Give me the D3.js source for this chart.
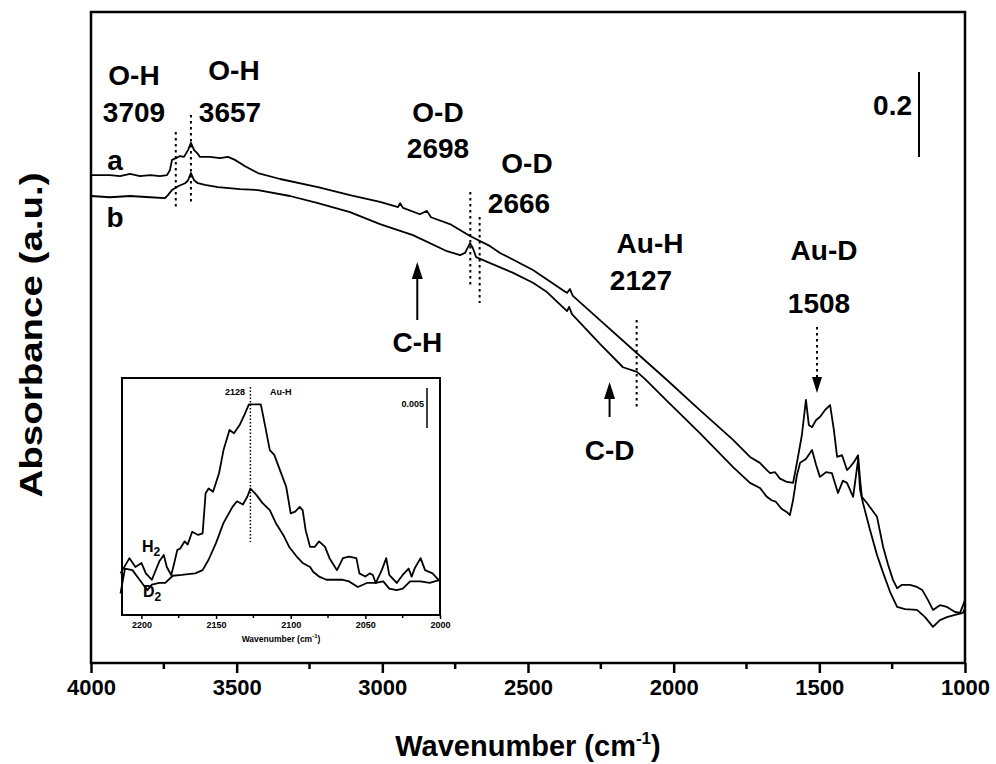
<!DOCTYPE html>
<html>
<head>
<meta charset="utf-8">
<script src="https://cdn.jsdelivr.net/npm/d3@7/dist/d3.min.js"></script>
<style>
  body { margin: 0; background: #fff; }
  svg text { font-family: "Liberation Sans", Arial, sans-serif; font-weight: bold; fill: #000; }
</style>
</head>
<body>
<svg id="chart" width="996" height="764"></svg>
<script>
// main spectra: [wavenumber, absorbance]
var curveA = [[4000,1.148],[3935,1.148],[3900,1.146],[3866,1.151],[3832,1.146],[3797,1.148],[3763,1.146],[3739,1.148],
  [3729,1.160],[3722,1.184],[3708,1.188],[3695,1.193],[3681,1.191],[3667,1.207],[3657,1.224],[3646,1.207],[3633,1.198],
  [3626,1.191],[3592,1.191],[3557,1.188],[3530,1.191],[3506,1.184],[3471,1.169],[3427,1.153],[3351,1.139],[3221,1.120],
  [3111,1.101],[3008,1.085],[2946,1.073],[2939,1.082],[2929,1.071],[2871,1.056],[2847,1.064],[2833,1.049],[2768,1.033],
  [2699,1.005],[2630,0.981],[2596,0.965],[2483,0.925],[2366,0.871],[2356,0.880],[2346,0.864],[2253,0.807],[2126,0.729],
  [2023,0.666],[1910,0.595],[1796,0.525],[1738,0.485],[1704,0.471],[1680,0.454],[1669,0.447],[1652,0.449],[1635,0.434],
  [1611,0.426],[1590,0.424],[1577,0.471],[1560,0.536],[1546,0.619],[1536,0.560],[1525,0.555],[1511,0.572],[1498,0.579],
  [1481,0.595],[1463,0.607],[1450,0.548],[1439,0.485],[1422,0.489],[1405,0.454],[1395,0.461],[1381,0.473],[1367,0.489],
  [1360,0.431],[1354,0.391],[1336,0.376],[1319,0.360],[1302,0.344],[1281,0.273],[1264,0.231],[1247,0.195],[1233,0.176],
  [1216,0.184],[1189,0.184],[1165,0.179],[1147,0.172],[1127,0.148],[1110,0.125],[1086,0.136],[1062,0.132],[1034,0.120],
  [1017,0.118],[1000,0.148]];

var curveB = [[4000,1.099],[3935,1.096],[3866,1.099],[3797,1.096],[3746,1.094],[3736,1.101],[3722,1.113],[3701,1.122],
  [3677,1.129],[3667,1.136],[3657,1.153],[3646,1.136],[3633,1.129],[3609,1.125],[3564,1.120],[3489,1.115],[3427,1.113],
  [3317,1.099],[3221,1.082],[3111,1.061],[3008,1.033],[2895,1.007],[2778,0.969],[2733,0.960],[2716,0.965],[2699,0.988],
  [2689,0.976],[2678,0.955],[2630,0.941],[2551,0.918],[2483,0.895],[2435,0.873],[2366,0.828],[2359,0.838],[2349,0.821],
  [2253,0.751],[2174,0.696],[2126,0.685],[2098,0.668],[2023,0.617],[1910,0.541],[1796,0.461],[1738,0.424],[1704,0.412],
  [1680,0.391],[1664,0.383],[1650,0.380],[1630,0.363],[1611,0.355],[1601,0.348],[1590,0.384],[1577,0.442],[1566,0.471],
  [1546,0.480],[1525,0.501],[1511,0.466],[1498,0.438],[1477,0.449],[1457,0.447],[1436,0.400],[1419,0.429],[1405,0.424],
  [1384,0.391],[1367,0.478],[1360,0.407],[1350,0.376],[1326,0.313],[1302,0.254],[1281,0.212],[1257,0.167],[1233,0.132],
  [1206,0.127],[1165,0.125],[1137,0.108],[1110,0.085],[1086,0.101],[1062,0.108],[1034,0.113],[1007,0.118],[1000,0.129]];

// inset spectra (Au-H region)
var insetH2 = [[2214,0.0052],[2208,0.0071],[2204,0.0060],[2200,0.0065],[2197,0.0052],[2193,0.0044],[2188,0.0067],
  [2185,0.0075],[2183,0.0060],[2180,0.0050],[2178,0.0065],[2176,0.0081],[2174,0.0083],[2171,0.0092],[2169,0.0088],
  [2166,0.0104],[2162,0.0100],[2159,0.0102],[2157,0.0152],[2155,0.0158],[2152,0.0154],[2148,0.0177],[2145,0.0206],
  [2141,0.0231],[2138,0.0227],[2134,0.0238],[2131,0.0250],[2128,0.0263],[2120,0.0263],[2117,0.0235],[2114,0.0206],
  [2111,0.0200],[2108,0.0185],[2103,0.0160],[2100,0.0127],[2097,0.0129],[2094,0.0135],[2092,0.0131],[2090,0.0106],
  [2087,0.0085],[2084,0.0085],[2081,0.0092],[2077,0.0085],[2074,0.0071],[2069,0.0056],[2065,0.0071],[2061,0.0073],
  [2056,0.0071],[2054,0.0052],[2050,0.0048],[2047,0.0052],[2045,0.0050],[2043,0.0040],[2039,0.0056],[2036,0.0071],
  [2034,0.0050],[2029,0.0040],[2025,0.0050],[2021,0.0058],[2019,0.0048],[2017,0.0058],[2013,0.0071],[2010,0.0056],
  [2005,0.0052],[2000,0.0042]];

var insetD2 = [[2214,0.0027],[2211,0.0058],[2206,0.0056],[2202,0.0046],[2196,0.0031],[2193,0.0038],[2188,0.0040],
  [2184,0.0040],[2179,0.0049],[2173,0.0050],[2164,0.0052],[2159,0.0056],[2155,0.0069],[2150,0.0090],[2148,0.0100],
  [2145,0.0115],[2139,0.0135],[2136,0.0142],[2132,0.0138],[2129,0.0148],[2127,0.0158],[2123,0.0150],[2119,0.0140],
  [2114,0.0131],[2110,0.0115],[2105,0.0100],[2101,0.0085],[2096,0.0073],[2092,0.0065],[2087,0.0060],[2085,0.0054],
  [2081,0.0048],[2076,0.0044],[2069,0.0044],[2065,0.0044],[2061,0.0042],[2055,0.0035],[2049,0.0040],[2043,0.0040],
  [2038,0.0042],[2034,0.0033],[2029,0.0031],[2025,0.0033],[2020,0.0042],[2013,0.0042],[2007,0.0040],[2000,0.0044]];

var xTicks = [4000, 3500, 3000, 2500, 2000, 1500, 1000];
var insetTicks = [2200, 2150, 2100, 2050, 2000];
var peakLines = [3709, 3657, 2698, 2666, 2127];
var peakNames = ["O-H", "O-H", "O-D", "O-D", "Au-H", "Au-D"];
var peakValues = ["3709", "3657", "2698", "2666", "2127", "1508"];
var shiftArrows = [["C-H", 2880], ["C-D", 2220]];
var auD = 1508;
var scaleBar = 0.2, insetScaleBar = 0.005, insetPeak = 2127;

var svg = d3.select("#chart");

var margin = {left: 91, right: 31, top: 12, bottom: 101},
  width = 996 - margin.left - margin.right,
  height = 764 - margin.top - margin.bottom;

var x = d3.scaleLinear().domain([4000, 1000]).range([margin.left, margin.left + width]);
var y = d3.scaleLinear().domain([0, 1.532]).range([margin.top + height, margin.top]);

var line = d3.line()
  .x(function(d) { return x(d[0]); })
  .y(function(d) { return y(d[1]); });

// curves
svg.selectAll(".spec")
  .data([curveA, curveB])
  .enter().append("path")
  .attr("class", "spec")
  .attr("d", line)
  .attr("fill", "none")
  .attr("stroke", "#000")
  .attr("stroke-width", 1.8)
  .attr("stroke-linejoin", "round");

// frame
svg.append("rect")
  .attr("x", margin.left).attr("y", margin.top)
  .attr("width", width).attr("height", height)
  .attr("fill", "none").attr("stroke", "#000").attr("stroke-width", 2.5);

// bottom axis
var minor = d3.range(3750, 1000, -500);
svg.selectAll(".minor")
  .data(minor).enter().append("line")
  .attr("x1", x).attr("x2", x)
  .attr("y1", margin.top + height).attr("y2", margin.top + height + 6)
  .attr("stroke", "#000").attr("stroke-width", 2.5);

var xAxis = d3.axisBottom(x).tickValues(xTicks).tickSize(10).tickFormat(d3.format("d"));
var gx = svg.append("g")
  .attr("transform", "translate(0," + (margin.top + height) + ")")
  .call(xAxis);
gx.select(".domain").remove();
gx.selectAll(".tick line").attr("stroke-width", 2.5);
gx.selectAll(".tick text")
  .attr("y", 16)
  .attr("font-size", 22)
  .attr("font-family", "'Liberation Sans', Arial, sans-serif")
  .attr("font-weight", "bold");

// axis titles
var title = svg.append("text")
  .attr("x", 528).attr("y", 756)
  .attr("text-anchor", "middle")
  .attr("font-size", 29);
title.append("tspan").text("Wavenumber (cm");
title.append("tspan").attr("font-size", 17).attr("dy", -12).text("-1");
title.append("tspan").attr("dy", 12).text(")");

svg.append("text")
  .attr("transform", "translate(42,335) rotate(-90)")
  .attr("text-anchor", "middle")
  .attr("font-size", 32)
  .attr("textLength", 325)
  .attr("lengthAdjust", "spacingAndGlyphs")
  .text("Absorbance (a.u.)");

// scale bar
svg.append("line")
  .attr("x1", 919).attr("x2", 919)
  .attr("y1", 72).attr("y2", 72 + (y(0) - y(scaleBar)))
  .attr("stroke", "#000").attr("stroke-width", 2);
svg.append("text").attr("x", 912).attr("y", 115).attr("text-anchor", "end")
  .attr("font-size", 28).text(scaleBar);

// a / b labels
svg.append("text").attr("x", 115).attr("y", 170).attr("text-anchor", "middle").attr("font-size", 28).text("a");
svg.append("text").attr("x", 115).attr("y", 227).attr("text-anchor", "middle").attr("font-size", 28).text("b");

// dotted peak markers
var dotSpan = [[132, 208], [115, 203], [192, 287], [217, 303], [320, 410]];
svg.selectAll(".peak")
  .data(peakLines).enter().append("line")
  .attr("x1", x).attr("x2", x)
  .attr("y1", function(d, i) { return dotSpan[i][0]; })
  .attr("y2", function(d, i) { return dotSpan[i][1]; })
  .attr("stroke", "#000").attr("stroke-width", 2)
  .attr("stroke-dasharray", "2.5,3.5");

// peak labels
var namePos = [[134, 85], [234, 80], [438, 122], [527, 173], [650, 253], [824, 260]];
var valPos = [[134, 122], [230, 122], [438, 158], [519, 213], [641, 290], [819, 313]];
svg.selectAll(".pname")
  .data(peakNames).enter().append("text")
  .attr("x", function(d, i) { return namePos[i][0]; })
  .attr("y", function(d, i) { return namePos[i][1]; })
  .attr("text-anchor", "middle").attr("font-size", 28)
  .text(function(d) { return d; });
svg.selectAll(".pval")
  .data(peakValues).enter().append("text")
  .attr("x", function(d, i) { return valPos[i][0]; })
  .attr("y", function(d, i) { return valPos[i][1]; })
  .attr("text-anchor", "middle").attr("font-size", 28)
  .text(function(d) { return d; });

// C-H and C-D arrows
var arrowSpan = [[262, 320, 352], [382, 417, 460]];
shiftArrows.forEach(function(a, i) {
  var ax = x(a[1]), s = arrowSpan[i];
  svg.append("line").attr("x1", ax).attr("x2", ax)
    .attr("y1", s[0] + 10).attr("y2", s[1])
    .attr("stroke", "#000").attr("stroke-width", 2);
  svg.append("path")
    .attr("d", "M" + ax + "," + s[0] + "L" + (ax - 5.5) + "," + (s[0] + 17) + "L" + (ax + 5.5) + "," + (s[0] + 17) + "Z")
    .attr("fill", "#000");
  svg.append("text").attr("x", ax).attr("y", s[2]).attr("text-anchor", "middle")
    .attr("font-size", 28).text(a[0]);
});

// Au-D dotted arrow
var dx = x(auD);
svg.append("line").attr("x1", dx).attr("x2", dx).attr("y1", 327).attr("y2", 378)
  .attr("stroke", "#000").attr("stroke-width", 2).attr("stroke-dasharray", "2.5,3.5");
svg.append("path")
  .attr("d", "M" + dx + ",393L" + (dx - 5) + ",377L" + (dx + 5) + ",377Z")
  .attr("fill", "#000");

// ---- inset ----
var ix = d3.scaleLinear().domain([2213, 2000]).range([122, 440]);
var iy = d3.scaleLinear().domain([0, 0.0296]).range([615, 378]);
var iline = d3.line()
  .x(function(d) { return ix(d[0]); })
  .y(function(d) { return iy(d[1]); });

svg.append("rect").attr("x", 122).attr("y", 378).attr("width", 318).attr("height", 237)
  .attr("fill", "#fff").attr("stroke", "#000").attr("stroke-width", 2);

svg.selectAll(".ispec")
  .data([insetH2, insetD2]).enter().append("path")
  .attr("class", "ispec")
  .attr("d", iline)
  .attr("fill", "none").attr("stroke", "#000").attr("stroke-width", 1.8)
  .attr("stroke-linejoin", "round");

var iminor = d3.range(2175, 2000, -50);
svg.selectAll(".iminor")
  .data(iminor).enter().append("line")
  .attr("x1", ix).attr("x2", ix).attr("y1", 615).attr("y2", 618)
  .attr("stroke", "#000").attr("stroke-width", 1.5);
var gix = svg.append("g").attr("transform", "translate(0,615)")
  .call(d3.axisBottom(ix).tickValues(insetTicks).tickSize(4).tickFormat(d3.format("d")));
gix.select(".domain").remove();
gix.selectAll(".tick line").attr("stroke-width", 1.5);
gix.selectAll(".tick text").attr("y", 7).attr("font-size", 9)
  .attr("font-family", "'Liberation Sans', Arial, sans-serif").attr("font-weight", "bold");

var ititle = svg.append("text").attr("x", 281).attr("y", 642).attr("text-anchor", "middle").attr("font-size", 8.5);
ititle.append("tspan").text("Wavenumber (cm");
ititle.append("tspan").attr("font-size", 6).attr("dy", -4).text("-1");
ititle.append("tspan").attr("dy", 4).text(")");

svg.append("line").attr("x1", ix(insetPeak)).attr("x2", ix(insetPeak)).attr("y1", 387).attr("y2", 542)
  .attr("stroke", "#000").attr("stroke-width", 1.5).attr("stroke-dasharray", "1.5,2");
svg.append("text").attr("x", 245).attr("y", 395).attr("text-anchor", "end").attr("font-size", 9).text("2128");
svg.append("text").attr("x", 270).attr("y", 395).attr("font-size", 9).text("Au-H");

svg.append("line").attr("x1", 427).attr("x2", 427)
  .attr("y1", 388).attr("y2", 388 + (iy(0) - iy(insetScaleBar)))
  .attr("stroke", "#000").attr("stroke-width", 1.5);
svg.append("text").attr("x", 424).attr("y", 407).attr("text-anchor", "end").attr("font-size", 9).text(insetScaleBar);

var h2 = svg.append("text").attr("x", 142).attr("y", 552).attr("font-size", 16);
h2.append("tspan").text("H");
h2.append("tspan").attr("font-size", 12).attr("dy", 4).text("2");
var d2 = svg.append("text").attr("x", 143).attr("y", 597).attr("font-size", 16);
d2.append("tspan").text("D");
d2.append("tspan").attr("font-size", 12).attr("dy", 4).text("2");
</script>
</body>
</html>
